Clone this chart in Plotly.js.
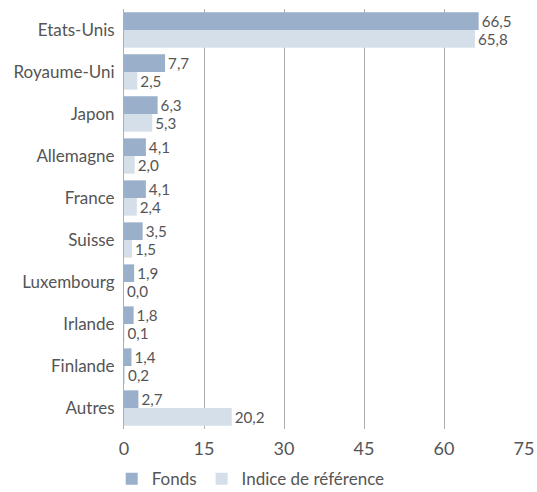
<!DOCTYPE html>
<html>
<head>
<meta charset="utf-8">
<script src="https://cdn.plot.ly/plotly-3.0.1.min.js"></script>
<style>html,body{margin:0;padding:0;background:#fff;}#chart{width:537px;height:492px;}</style>
</head>
<body>
<div id="chart"></div>
<script>
var categories = ["Etats-Unis","Royaume-Uni","Japon","Allemagne","France","Suisse","Luxembourg","Irlande","Finlande","Autres"];
var fonds = [66.5, 7.7, 6.3, 4.1, 4.1, 3.5, 1.9, 1.8, 1.4, 2.7];
var indice = [65.8, 2.5, 5.3, 2.0, 2.4, 1.5, 0.0, 0.1, 0.2, 20.2];
var seriesNames = ["Fonds", "Indice de référence"];
var xTicks = [0, 15, 30, 45, 60, 75];

var fontFam = "Lato, 'Open Sans', sans-serif";
var textCol = "#555555";

var traces = [
  {type:"bar", orientation:"h", name:seriesNames[0], y:categories, x:fonds,
   marker:{color:"#9aafca"}, texttemplate:"%{x:.1f}", textposition:"outside",
   cliponaxis:false, textfont:{size:15.5, color:textCol, family:fontFam}},
  {type:"bar", orientation:"h", name:seriesNames[1], y:categories, x:indice,
   marker:{color:"#d5dfea"}, texttemplate:"%{x:.1f}", textposition:"outside",
   cliponaxis:false, textfont:{size:15.5, color:textCol, family:fontFam}}
];

var layout = {
  width:537, height:492,
  margin:{l:124, r:13, t:9, b:63, autoexpand:false},
  barmode:"group", bargap:0.16, bargroupgap:0,
  separators:", ",
  paper_bgcolor:"#fff", plot_bgcolor:"#fff",
  font:{family:fontFam, color:textCol, size:17},
  showlegend:true,
  legend:{orientation:"h", xref:"container", x:0.208, xanchor:"left",
          yref:"container", y:0.026, yanchor:"middle",
          font:{size:17, color:textCol, family:fontFam}, traceorder:"normal",
          itemwidth:30, tracegroupgap:0},
  xaxis:{range:[0,75], tickvals:xTicks, ticktext:xTicks.map(String),
         showgrid:true, gridcolor:"#b0b0b0", gridwidth:1, zeroline:false,
         showline:false, ticks:"", tickfont:{size:18, color:textCol},
         ticklabelstandoff:7, fixedrange:true, automargin:false},
  yaxis:{autorange:"reversed", type:"category", ticks:"",
         showline:true, linecolor:"#b0b0b0", linewidth:1, automargin:false,
         tickfont:{size:17, color:textCol}, ticklabelstandoff:5, fixedrange:true}
};

Plotly.newPlot("chart", traces, layout, {displayModeBar:false, staticPlot:true});
</script>
</body>
</html>
